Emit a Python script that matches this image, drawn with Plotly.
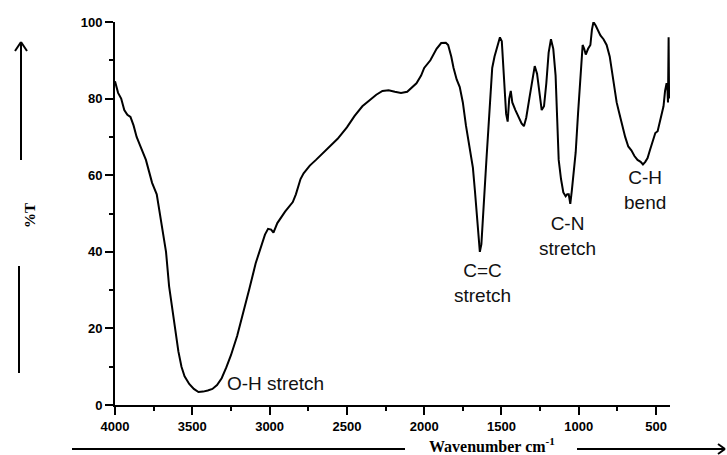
import plotly.graph_objects as go

# ---- data ----
wavenumber = [4000, 3990, 3980, 3960, 3940, 3920, 3900, 3880, 3860, 3840, 3820, 3800, 3780, 3760,
              3730, 3710, 3690, 3670, 3650, 3630, 3610, 3590, 3570, 3550, 3520, 3490, 3460, 3430,
              3400, 3370, 3340, 3310, 3280, 3250, 3210, 3170, 3130, 3090, 3060, 3030, 3010, 2990,
              2975, 2950, 2900, 2850, 2830, 2800, 2780, 2740, 2700, 2650, 2600, 2560, 2500, 2450,
              2400, 2350, 2310, 2270, 2230, 2190, 2150, 2110, 2080, 2050, 2020, 2000, 1960, 1920,
              1890, 1860, 1845, 1825, 1810, 1790, 1770, 1750, 1730, 1715, 1700, 1685, 1672, 1662,
              1650, 1640, 1630, 1620, 1608, 1596, 1585, 1574, 1560, 1545, 1525, 1510, 1498, 1490,
              1480, 1470, 1460, 1450, 1440, 1430, 1410, 1390, 1370, 1355, 1340, 1320, 1300, 1285,
              1270, 1255, 1240, 1225, 1210, 1195, 1180, 1165, 1150, 1140, 1130, 1115, 1100, 1085,
              1075, 1065, 1055, 1045, 1035, 1020, 1005, 990, 975, 965, 955, 940, 925, 915, 905,
              890, 875, 860, 840, 820, 800, 785, 770, 755, 740, 720, 700, 680, 660, 640, 620, 600,
              585, 570, 555, 540, 520, 505, 490, 475, 462, 452, 442, 432, 427, 423, 419, 416]
transmittance = [84.5, 82.5, 81.5, 80, 77, 75.8, 75.2, 73, 70, 68, 66, 64, 61, 58,
                 55, 50, 45, 40, 31, 25, 19, 14, 10, 7.5, 5.5, 4.2, 3.4, 3.5,
                 3.8, 4.2, 5.2, 7, 9.8, 13, 18, 24, 30.5, 37, 41, 44.5, 46, 45.8,
                 45, 47.5, 50.5, 53, 55, 59, 60.5, 62.5, 64, 66, 68, 69.5, 72.5, 75.5,
                 78, 79.8, 81, 82, 82.2, 81.8, 81.5, 81.8, 82.8, 84, 86, 88, 90, 93,
                 94.5, 94.6, 94, 91, 88, 85, 83, 79, 73, 69, 65, 62, 56, 51,
                 45, 40, 42, 48, 56, 65, 72, 78, 88, 91, 94, 96, 95, 90,
                 82, 76, 74, 80, 82, 79, 77, 75, 73.5, 72.8, 75, 80, 85, 88.5,
                 86.5, 81, 77, 78, 84, 92, 95.5, 93, 86, 75, 64, 59, 55.5, 54.5,
                 55, 55, 52.5, 56, 60, 66, 76, 84, 94, 93, 91.5, 93, 94, 98, 100,
                 99, 97.5, 96.5, 95.5, 94, 91, 87, 82, 79, 76.5, 73, 70, 67.5, 66.5, 65, 64, 63.5,
                 62.8, 63.5, 64.5, 66.5, 69, 71, 71.5, 74, 76, 78, 82, 84, 83, 79, 96, 80]

band_labels = ["O-H stretch", "C=C<br>stretch", "C-N<br>stretch", "C-H<br>bend"]
band_x = [3288, 1620, 1076, 572]
band_y = [5.5, 31.9, 44.1, 56.1]
band_anchor = ["left", "center", "center", "center"]

x_ticks = [4000, 3500, 3000, 2500, 2000, 1500, 1000, 500]
y_ticks = [0, 20, 40, 60, 80, 100]

# ---- layout geometry (pixels) ----
W, H = 727, 455
L, R, T, B = 115, 57, 22, 50
PW, PH = W - L - R, H - T - B


def px(xp, yp):
    return (xp - L) / PW, (H - B - yp) / PH


fig = go.Figure()
fig.add_trace(go.Scatter(x=wavenumber, y=transmittance, mode="lines",
                         line=dict(color="black", width=2), hoverinfo="skip"))

for txt, bx, by, anc in zip(band_labels, band_x, band_y, band_anchor):
    fig.add_annotation(x=bx, y=by, text=txt, showarrow=False, xanchor=anc, yanchor="middle",
                       font=dict(family="Liberation Sans", size=19, color="#111111"))

shapes = []


def seg(p1, p2):
    x0, y0 = px(*p1)
    x1, y1 = px(*p2)
    shapes.append(dict(type="line", xref="paper", yref="paper", x0=x0, y0=y0, x1=x1, y1=y1,
                       line=dict(color="black", width=2)))


# y-axis title arrows
seg((21, 160), (21, 42))
seg((15, 51), (21, 42))
seg((27, 51), (21, 42))
seg((19, 266), (19, 373))
# x-axis title arrows
seg((72, 449), (405, 449))
seg((577, 449), (725, 449))
seg((718, 444), (725, 449))
seg((718, 454), (725, 449))

ax, ay = px(20, 216)
fig.add_annotation(xref="paper", yref="paper", x=ax, y=ay, text="%T", textangle=-90,
                   showarrow=False, font=dict(family="Liberation Serif", size=15, color="black",
                                              weight="bold"))
tx, ty = px(492, 445)
fig.add_annotation(xref="paper", yref="paper", x=tx, y=ty, text="Wavenumber cm<sup>-1</sup>",
                   showarrow=False, xanchor="center", yanchor="middle",
                   font=dict(family="Liberation Serif", size=16, color="black", weight="bold"))

tickfont = dict(family="Liberation Sans", size=13, color="black", weight="bold")
fig.update_layout(
    width=W, height=H, margin=dict(l=L, r=R, t=T, b=B),
    paper_bgcolor="white", plot_bgcolor="white", showlegend=False,
    shapes=shapes,
    xaxis=dict(range=[4000, 410], tickvals=x_ticks, ticktext=[str(v) for v in x_ticks],
               showgrid=False, zeroline=False, showline=True, linecolor="black", linewidth=2,
               ticks="outside", ticklen=8, tickwidth=2, tickcolor="black", tickfont=tickfont,
               minor=dict(tickvals=[3750, 3250, 2750, 2250, 1750, 1250, 750], ticks="outside",
                          ticklen=4, tickwidth=2, tickcolor="black")),
    yaxis=dict(range=[0, 100], tickvals=y_ticks, showgrid=False, zeroline=False, showline=True,
               linecolor="black", linewidth=2, ticks="outside", ticklen=8, tickwidth=2,
               tickcolor="black", tickfont=tickfont,
               minor=dict(tickvals=[10, 30, 50, 70, 90], ticks="outside", ticklen=4,
                          tickwidth=2, tickcolor="black")),
)

fig.write_html("out.html")
